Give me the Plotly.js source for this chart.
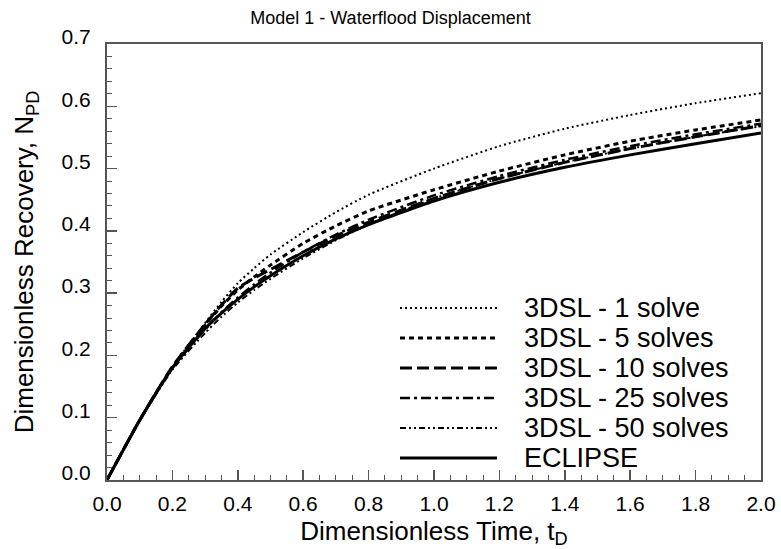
<!DOCTYPE html>
<html>
<head>
<meta charset="utf-8">
<script src="https://cdn.plot.ly/plotly-3.0.1.min.js"></script>
<style>html,body{margin:0;padding:0;background:#fff;}#chart{width:781px;height:549px;}</style>
</head>
<body>
<div id="chart"></div>
<script>
// Dimensionless time samples
const tD = [0, 0.1, 0.2, 0.3, 0.35, 0.4, 0.45, 0.5, 0.6, 0.7, 0.8, 1.0, 1.2, 1.4, 1.6, 1.8, 2.0];

// Dimensionless recovery for each run
const solve1   = [0, 0.096, 0.181, 0.252, 0.286, 0.316, 0.340, 0.362, 0.398, 0.430, 0.458, 0.500, 0.536, 0.564, 0.586, 0.605, 0.621];
const solve5   = [0, 0.096, 0.181, 0.249, 0.279, 0.305, 0.326, 0.345, 0.380, 0.408, 0.432, 0.466, 0.496, 0.522, 0.544, 0.562, 0.578];
const solve10  = [0, 0.096, 0.182, 0.250, 0.281, 0.308, 0.324, 0.338, 0.366, 0.392, 0.414, 0.452, 0.484, 0.510, 0.532, 0.551, 0.569];
const solve25  = [0, 0.096, 0.180, 0.242, 0.269, 0.293, 0.314, 0.333, 0.366, 0.394, 0.418, 0.457, 0.488, 0.514, 0.536, 0.555, 0.572];
const solve50  = [0, 0.095, 0.177, 0.236, 0.262, 0.285, 0.305, 0.323, 0.356, 0.385, 0.410, 0.452, 0.484, 0.510, 0.532, 0.551, 0.568];
const eclipse  = [0, 0.096, 0.180, 0.243, 0.268, 0.290, 0.310, 0.328, 0.360, 0.387, 0.410, 0.448, 0.478, 0.502, 0.522, 0.540, 0.557];

const seriesNames = ['3DSL - 1 solve', '3DSL - 5 solves', '3DSL - 10 solves', '3DSL - 25 solves', '3DSL - 50 solves', 'ECLIPSE'];
const seriesData  = [solve1, solve5, solve10, solve25, solve50, eclipse];

// styles (kept separate from data)
const dashes = ['2px,3px', '5px,4px', '12px,5px', '10px,4px,3px,4px', '6px,3px,2px,3px,2px,3px', 'solid'];
const widths = [2, 3, 3, 2.5, 2, 3];

const traces = seriesNames.map((n, i) => ({
  x: tD, y: seriesData[i], name: n, type: 'scatter', mode: 'lines', showlegend: false,
  line: {color: '#000', width: widths[i], dash: dashes[i], shape: 'spline', smoothing: 0.6}
}));

const font = 'Liberation Sans, Arial, sans-serif';
const axisCommon = {
  showgrid: false, zeroline: false, showline: true, linecolor: '#555', linewidth: 2, mirror: true,
  ticks: 'inside', ticklen: 10, tickwidth: 1.5, tickcolor: '#555',
  tickfont: {family: font, size: 21, color: '#000'},
  tickformat: '.1f'
};

// manual legend (long line samples, tight rows) in paper coordinates
const plotW = 781 - 107 - 20, plotH = 549 - 44 - 69;
const legX0 = (400 - 107) / plotW, legX1 = (497 - 107) / plotW, legTX = (522 - 107) / plotW;
const legY0 = (480 - 308) / plotH, legStep = 30 / plotH;
const shapes = [], annotations = [];
seriesNames.forEach((n, i) => {
  const yy = legY0 - i * legStep;
  shapes.push({type: 'line', xref: 'paper', yref: 'paper', x0: legX0, x1: legX1, y0: yy, y1: yy,
               line: {color: '#000', width: widths[i], dash: dashes[i]}});
  annotations.push({xref: 'paper', yref: 'paper', x: legTX, y: yy, xanchor: 'left', yanchor: 'middle',
                    text: n, showarrow: false, font: {family: font, size: 27, color: '#000'}});
});

const layout = {
  width: 781, height: 549,
  margin: {l: 107, r: 20, t: 44, b: 69},
  paper_bgcolor: '#fff', plot_bgcolor: '#fff',
  font: {family: font, color: '#000'},
  title: {text: 'Model 1 - Waterflood Displacement', font: {family: font, size: 18, color: '#000'},
          x: 0.5, xref: 'container', y: 0.968, yref: 'container', yanchor: 'middle'},
  xaxis: Object.assign({}, axisCommon, {
    range: [0, 2], dtick: 0.2, tick0: 0, ticklabelstandoff: 4,
    minor: {dtick: 0.05, ticks: 'inside', ticklen: 5, tickwidth: 1, tickcolor: '#555'},
    title: {text: 'Dimensionless Time, t<sub>D</sub>', font: {family: font, size: 26, color: '#000'}, standoff: 8}
  }),
  yaxis: Object.assign({}, axisCommon, {
    range: [0, 0.7], dtick: 0.1, tick0: 0, ticklabelstandoff: 10, ticklabelshift: -7,
    minor: {dtick: 0.02, ticks: 'inside', ticklen: 5, tickwidth: 1, tickcolor: '#555'},
    title: {text: 'Dimensionless Recovery, N<sub>PD</sub>', font: {family: font, size: 26, color: '#000'}, standoff: 20}
  }),
  shapes: shapes,
  annotations: annotations,
  showlegend: false
};

Plotly.newPlot('chart', traces, layout, {displayModeBar: false, staticPlot: true});
</script>
</body>
</html>
